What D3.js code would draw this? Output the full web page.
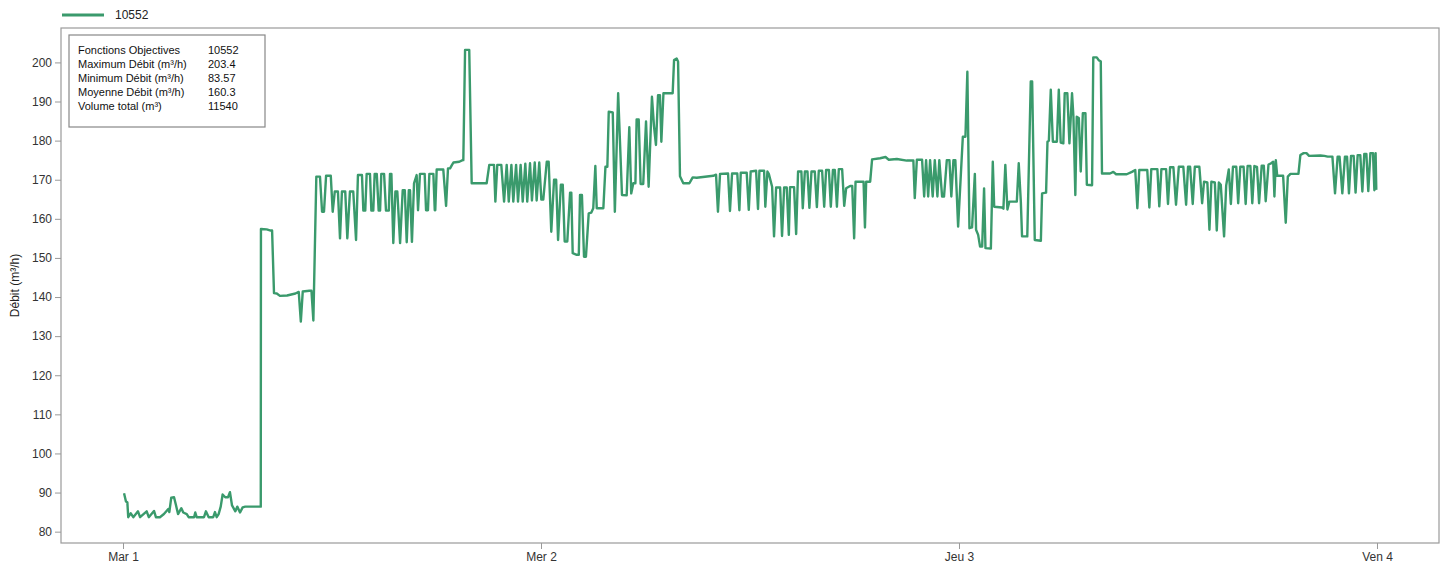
<!DOCTYPE html>
<html lang="fr">
  <head>
    <meta charset="UTF-8" />
    <title>Débit 10552</title>
    <script src="https://d3js.org/d3.v7.min.js"></script>
    <style>
      body {
        margin: 0;
        font-family: Arial, "Liberation Sans", sans-serif;
        background: #fff;
      }
      .axis text {
        font-size: 12px;
        fill: #333;
        font-family: Arial, "Liberation Sans", sans-serif;
      }
      .axis line {
        stroke: #999;
      }
      .axis path {
        display: none;
      }
    </style>
  </head>
  <body>
    <script>
      // series name + summary box
      var seriesName = "10552";
      var infoLabels = [
        "Fonctions Objectives",
        "Maximum Débit (m³/h)",
        "Minimum Débit (m³/h)",
        "Moyenne Débit (m³/h)",
        "Volume total (m³)",
      ];
      var infoValues = ["10552", "203.4", "83.57", "160.3", "11540"];

      var dayNames = ["Dim", "Lun", "Mar", "Mer", "Jeu", "Ven", "Sam"];
      var yTicks = [80, 90, 100, 110, 120, 130, 140, 150, 160, 170, 180, 190, 200];

      // [hour of day, débit m³/h]
      var mar1 = [
        [0.06, 89.8], [0.17, 87.7], [0.25, 87.5], [0.3, 83.7], [0.44, 84.7], [0.59, 83.7],
        [0.86, 85.2], [0.98, 83.7], [1.36, 85.2], [1.48, 83.7], [1.78, 85.3], [1.89, 83.7],
        [2.12, 83.7], [2.35, 84.5], [2.6, 85.8], [2.66, 85.0], [2.77, 88.7], [2.93, 88.8],
        [3.04, 86.8], [3.16, 84.5], [3.35, 86.0], [3.46, 84.9], [3.66, 84.5], [3.77, 83.7],
        [4.08, 83.7], [4.15, 84.9], [4.23, 83.7], [4.65, 83.7], [4.76, 85.2], [4.92, 83.7],
        [5.18, 83.7], [5.28, 85.0], [5.38, 83.7], [5.49, 84.5], [5.61, 86.4], [5.72, 89.5],
        [5.87, 88.8], [6.03, 88.8], [6.14, 90.1], [6.26, 86.7], [6.45, 85.2], [6.56, 86.4],
        [6.72, 84.9], [6.87, 86.2], [7.02, 86.4], [7.91, 86.4], [7.92, 157.4], [8.25, 157.3],
        [8.48, 157.0], [8.56, 157.0], [8.67, 141.0], [8.83, 140.9], [9.01, 140.3], [9.42, 140.4],
        [9.9, 140.9], [10.09, 141.3], [10.21, 133.7], [10.32, 141.4], [10.7, 141.6], [10.82, 141.6],
        [10.93, 134.0], [11.1, 170.8], [11.31, 170.8], [11.43, 161.8], [11.54, 161.8], [11.66, 171.0],
        [11.93, 171.0], [12.04, 161.8], [12.16, 167.0], [12.34, 167.0], [12.46, 155.0], [12.57, 167.0],
        [12.76, 167.0], [12.88, 155.0], [13.03, 167.0], [13.22, 167.0], [13.38, 154.6], [13.49, 171.2],
        [13.72, 171.2], [13.8, 162.1], [13.91, 162.1], [13.99, 171.5], [14.18, 171.5], [14.26, 162.1],
        [14.37, 162.1], [14.45, 171.5], [14.57, 171.5], [14.68, 162.1], [14.76, 162.1], [14.83, 171.5],
        [14.99, 171.5], [15.1, 162.1], [15.26, 162.1], [15.33, 171.5], [15.41, 171.5], [15.52, 153.8],
        [15.64, 167.0], [15.75, 167.0], [15.91, 153.8], [16.06, 167.3], [16.18, 167.3], [16.29, 154.0],
        [16.41, 167.3], [16.48, 167.3], [16.59, 154.1], [16.71, 169.1], [16.86, 171.2], [16.94, 162.2],
        [17.05, 171.5], [17.32, 171.5], [17.4, 162.2], [17.51, 162.2], [17.59, 171.5], [17.82, 171.5],
        [17.9, 162.2], [17.93, 162.2], [18.01, 172.6], [18.26, 172.6], [18.39, 172.6], [18.55, 163.3],
        [18.66, 172.9], [18.78, 172.9], [18.89, 173.8], [18.97, 174.4], [19.31, 174.6], [19.5, 175.0],
        [19.54, 175.0], [19.64, 203.2], [19.88, 203.2], [20.02, 169.1], [20.88, 169.1], [21.03, 173.8],
        [21.3, 173.8], [21.38, 164.4], [21.49, 173.8], [21.72, 173.8], [21.88, 164.4], [22.03, 173.8],
        [22.15, 164.4], [22.3, 173.8], [22.41, 164.4], [22.57, 173.8], [22.68, 164.4], [22.83, 173.8],
        [22.95, 164.4], [23.1, 174.1], [23.21, 164.4], [23.37, 174.2], [23.48, 164.7], [23.64, 174.4],
        [23.75, 164.7], [23.9, 174.4],
      ];

      var mer2 = [
        [0.02, 164.9], [0.13, 164.9], [0.33, 174.6], [0.44, 174.6], [0.59, 156.7], [0.75, 170.0],
        [0.87, 170.0], [0.98, 154.6], [1.14, 168.7], [1.25, 168.7], [1.36, 154.2], [1.51, 154.2],
        [1.67, 166.7], [1.74, 166.7], [1.82, 151.2], [2.05, 150.8], [2.17, 150.8], [2.24, 166.1],
        [2.35, 166.1], [2.47, 150.3], [2.58, 150.3], [2.74, 161.4], [2.89, 161.6], [3.0, 162.7],
        [3.12, 173.5], [3.2, 162.7], [3.58, 162.7], [3.7, 173.3], [3.81, 173.3], [3.89, 187.4],
        [4.12, 187.2], [4.24, 161.8], [4.43, 192.1], [4.65, 166.1], [4.92, 166.0], [5.07, 183.4],
        [5.18, 166.5], [5.3, 169.1], [5.42, 169.1], [5.49, 185.4], [5.61, 185.4], [5.72, 168.9],
        [5.87, 168.9], [6.03, 184.9], [6.18, 168.2], [6.37, 191.2], [6.49, 183.6], [6.6, 178.9],
        [6.72, 191.6], [6.83, 191.6], [6.91, 179.7], [7.03, 192.1], [7.56, 192.1], [7.64, 200.6],
        [7.79, 201.0], [7.87, 200.2], [7.98, 170.9], [8.17, 169.1], [8.52, 169.1], [8.71, 170.6],
        [8.94, 170.5], [9.89, 171.0], [10.05, 171.3], [10.16, 161.8], [10.28, 171.5], [10.74, 171.6],
        [10.85, 162.0], [10.97, 171.6], [11.27, 171.6], [11.39, 162.2], [11.47, 171.8], [11.81, 171.8],
        [11.93, 162.3], [12.04, 172.1], [12.35, 172.3], [12.46, 162.5], [12.54, 172.3], [12.81, 172.3],
        [12.88, 163.1], [13.0, 172.1], [13.08, 171.5], [13.27, 168.2], [13.38, 155.5], [13.5, 168.0],
        [13.73, 168.0], [13.84, 155.6], [13.96, 168.0], [14.11, 168.0], [14.23, 155.9], [14.3, 168.1],
        [14.53, 168.1], [14.65, 156.1], [14.76, 172.1], [14.95, 172.1], [15.03, 162.7], [15.15, 172.1],
        [15.3, 172.1], [15.41, 162.8], [15.53, 172.1], [15.72, 172.1], [15.84, 163.0], [15.95, 172.3],
        [16.14, 172.3], [16.26, 163.1], [16.37, 172.5], [16.53, 172.5], [16.64, 163.1], [16.76, 172.5],
        [16.87, 172.5], [16.99, 163.1], [17.1, 172.7], [17.29, 172.7], [17.41, 163.3], [17.52, 167.8],
        [17.75, 168.4], [17.87, 168.4], [17.98, 155.0], [18.06, 169.5], [18.52, 169.5], [18.6, 157.8],
        [18.67, 169.5], [18.9, 169.5], [19.01, 175.2], [19.47, 175.5], [19.78, 175.8], [19.97, 175.1],
        [20.43, 175.3], [21.0, 174.9], [21.38, 174.9], [21.46, 165.3], [21.58, 175.1], [21.88, 175.1],
        [22.0, 165.7], [22.11, 175.0], [22.23, 165.7], [22.34, 175.0], [22.49, 165.7], [22.61, 175.0],
        [22.76, 165.7], [22.87, 175.0], [23.03, 165.7], [23.14, 165.7], [23.3, 175.0], [23.45, 175.0],
        [23.56, 165.7], [23.68, 175.0], [23.79, 175.0], [23.95, 158.0],
      ];

      var jeu3 = [
        [0.1, 170.8], [0.22, 181.0], [0.37, 181.0], [0.48, 197.6], [0.6, 157.6], [0.75, 157.8],
        [0.91, 171.5], [0.98, 157.2], [1.1, 155.9], [1.21, 152.9], [1.33, 152.9], [1.44, 167.8],
        [1.52, 152.5], [1.83, 152.4], [1.94, 174.6], [2.02, 163.1], [2.47, 162.9], [2.55, 162.6],
        [2.66, 173.8], [2.78, 162.4], [2.89, 164.4], [3.32, 164.4], [3.43, 174.2], [3.55, 164.4],
        [3.62, 155.5], [3.92, 155.5], [4.12, 195.1], [4.2, 195.1], [4.35, 154.6], [4.7, 154.4],
        [4.77, 166.5], [5.0, 166.7], [5.08, 179.7], [5.16, 180.0], [5.27, 193.0], [5.39, 179.7],
        [5.62, 179.7], [5.73, 193.0], [5.84, 179.5], [5.99, 179.3], [6.07, 192.1], [6.22, 192.1],
        [6.34, 179.3], [6.49, 192.1], [6.57, 186.1], [6.68, 166.1], [6.76, 186.1], [6.88, 185.8],
        [6.99, 172.1], [7.11, 187.0], [7.26, 187.0], [7.34, 168.7], [7.64, 168.6], [7.71, 201.3],
        [7.91, 201.3], [8.03, 200.5], [8.14, 200.3], [8.21, 171.6], [8.67, 171.6], [8.86, 172.0],
        [9.02, 171.4], [9.63, 171.4], [9.93, 172.0], [10.12, 172.5], [10.24, 162.7], [10.35, 172.5],
        [10.81, 172.5], [10.93, 162.9], [11.04, 172.7], [11.39, 172.7], [11.5, 163.2], [11.62, 172.7],
        [11.89, 172.7], [12.0, 163.8], [12.12, 173.2], [12.31, 173.2], [12.46, 163.6], [12.62, 173.3],
        [12.88, 173.3], [13.04, 163.6], [13.15, 173.3], [13.27, 173.3], [13.42, 163.8], [13.54, 173.3],
        [13.8, 173.3], [13.96, 164.0], [14.07, 169.5], [14.26, 169.3], [14.38, 157.2], [14.49, 169.5],
        [14.69, 169.3], [14.8, 157.0], [14.92, 169.3], [15.03, 168.7], [15.22, 155.5], [15.34, 168.5],
        [15.49, 172.6], [15.61, 163.8], [15.73, 173.3], [15.92, 173.3], [16.03, 164.0], [16.15, 173.3],
        [16.34, 173.3], [16.46, 163.8], [16.57, 173.5], [16.73, 173.5], [16.84, 164.0], [16.96, 173.5],
        [17.11, 173.3], [17.23, 164.0], [17.38, 173.6], [17.5, 173.6], [17.61, 164.5], [17.77, 173.9],
        [17.92, 174.2], [18.04, 174.6], [18.11, 165.7], [18.19, 175.0], [18.27, 171.0], [18.61, 171.0],
        [18.76, 159.0], [18.88, 170.8], [19.03, 171.5], [19.49, 171.5], [19.6, 176.3], [19.79, 176.8],
        [19.95, 176.8], [20.1, 176.1], [20.75, 176.2], [20.98, 176.1], [21.17, 175.9], [21.44, 175.9],
        [21.59, 166.5], [21.74, 175.9], [21.85, 175.9], [22.01, 166.5], [22.16, 175.9], [22.28, 175.9],
        [22.39, 166.5], [22.51, 176.1], [22.66, 176.1], [22.77, 166.7], [22.89, 176.3], [23.04, 176.3],
        [23.16, 167.0], [23.27, 176.6], [23.39, 176.6], [23.5, 167.1], [23.62, 176.8], [23.77, 176.8],
        [23.85, 167.3], [23.92, 176.8], [23.96, 167.4],
      ];

      var days = [
        { start: Date.UTC(2022, 2, 1), points: mar1 },
        { start: Date.UTC(2022, 2, 2), points: mer2 },
        { start: Date.UTC(2022, 2, 3), points: jeu3 },
      ];

      var data = [];
      days.forEach(function (day) {
        day.points.forEach(function (p) {
          data.push({ t: new Date(day.start + p[0] * 3600e3), v: p[1] });
        });
      });

      var width = 1445,
        height = 565;
      var margin = { top: 28, right: 6, bottom: 22, left: 61 };
      var innerW = width - margin.left - margin.right,
        innerH = height - margin.top - margin.bottom;

      var svg = d3
        .select("body")
        .append("svg")
        .attr("width", width)
        .attr("height", height);

      var x = d3
        .scaleUtc()
        .domain([
          new Date(Date.UTC(2022, 2, 1) - 3.56 * 3600e3),
          new Date(Date.UTC(2022, 2, 1) + 75.56 * 3600e3),
        ])
        .range([0, innerW]);

      var y = d3.scaleLinear().domain([77.1, 208.8]).range([innerH, 0]);

      var g = svg
        .append("g")
        .attr("transform", "translate(" + margin.left + "," + margin.top + ")");

      // frame
      g.append("rect")
        .attr("x", 0)
        .attr("y", 0)
        .attr("width", innerW)
        .attr("height", innerH)
        .attr("fill", "none")
        .attr("stroke", "#9a9a9a")
        .attr("stroke-width", 1.2);

      // y axis
      g.append("g")
        .attr("class", "axis")
        .call(d3.axisLeft(y).tickValues(yTicks).tickSize(6).tickPadding(3));

      // x axis
      g.append("g")
        .attr("class", "axis")
        .attr("transform", "translate(0," + innerH + ")")
        .call(
          d3
            .axisBottom(x)
            .ticks(d3.utcDay.every(1))
            .tickSize(6)
            .tickPadding(3)
            .tickFormat(function (d) {
              return dayNames[d.getUTCDay()] + " " + d.getUTCDate();
            })
        );

      // y label
      svg
        .append("text")
        .attr("transform", "translate(19," + (margin.top + innerH / 2) + ") rotate(-90)")
        .attr("text-anchor", "middle")
        .style("font-size", "12px")
        .style("fill", "#222")
        .text("Débit (m³/h)");

      // the line
      var line = d3
        .line()
        .x(function (d) {
          return x(d.t);
        })
        .y(function (d) {
          return y(d.v);
        });

      g.append("path")
        .datum(data)
        .attr("fill", "none")
        .attr("stroke", "#3a9a6c")
        .attr("stroke-width", 2.4)
        .attr("stroke-linejoin", "round")
        .attr("d", line);

      // legend
      var legend = svg.append("g").attr("transform", "translate(62,15)");
      legend
        .append("line")
        .attr("x1", 0)
        .attr("x2", 42)
        .attr("stroke", "#3a9a6c")
        .attr("stroke-width", 3);
      legend
        .append("text")
        .attr("x", 53)
        .attr("dy", "0.35em")
        .style("font-size", "12px")
        .style("fill", "#222")
        .text(seriesName);

      // info box
      var box = svg.append("g").attr("transform", "translate(69,35)");
      box
        .append("rect")
        .attr("width", 196)
        .attr("height", 92)
        .attr("fill", "#fff")
        .attr("stroke", "#888")
        .attr("stroke-width", 1.2);
      infoLabels.forEach(function (lab, i) {
        var yy = 15 + i * 14;
        box
          .append("text")
          .attr("x", 9)
          .attr("y", yy)
          .attr("dy", "0.35em")
          .style("font-size", "11px")
          .style("fill", "#111")
          .text(lab);
        box
          .append("text")
          .attr("x", 139)
          .attr("y", yy)
          .attr("dy", "0.35em")
          .style("font-size", "11px")
          .style("fill", "#111")
          .text(infoValues[i]);
      });
    </script>
  </body>
</html>
